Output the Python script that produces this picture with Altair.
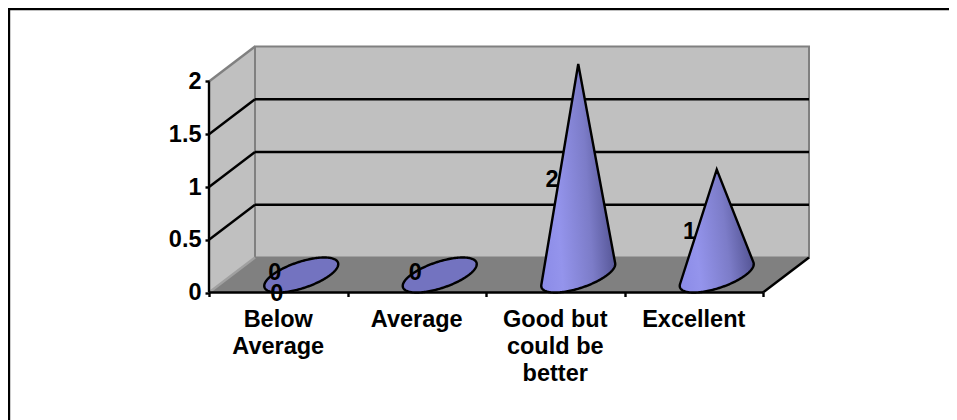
import altair as alt
import numpy as np
import pandas as pd

categories = ["Below\nAverage", "Average", "Good but\ncould be\nbetter", "Excellent"]
values = [0, 0, 2, 1]
y_ticks = [0, 0.5, 1, 1.5, 2]
x_ticks = [0, 1, 2, 3, 4]
grid_values = [0.5, 1, 1.5]
label_text = ["0", "0", "0", "2", "1"]
label_cat = [0.475, 0.49, 1.49, 2.476, 3.47]
label_val = [0.185, -0.01, 0.185, 1.07, 0.57]

W, H = 941, 412
CAT_PX, VAL_PX = 138.5, 105.5
X0, Y0 = 201, 284.5
DX, DY = 46 / CAT_PX, 35 / VAL_PX
RADIUS = 29 / CAT_PX
TOP = 2
FONT = "Liberation Sans"
SIZE = 23.5
LW = 2.4

xs = alt.Scale(domain=[-X0 / CAT_PX, (W - X0) / CAT_PX], nice=False, zero=False)
ys = alt.Scale(domain=[-(H - Y0) / VAL_PX, Y0 / VAL_PX], nice=False, zero=False)
x_axis = alt.Axis(values=x_ticks, orient="bottom", offset=-(H - Y0), domain=False, grid=False, labels=False,
                  title=None, tickSize=4, tickWidth=LW, tickColor="black", zindex=1)
y_axis = alt.Axis(values=y_ticks, orient="left", offset=-X0, domain=False, grid=False, title=None, format=".2~f",
                  tickSize=4, tickWidth=LW, tickColor="black", labelFont=FONT, labelFontSize=SIZE,
                  labelFontWeight="bold", labelColor="black", labelPadding=4, zindex=1)
X = alt.X("x:Q", scale=xs, axis=x_axis)
Y = alt.Y("y:Q", scale=ys, axis=y_axis)
Y2 = alt.Y2("y2:Q")
X2 = alt.X2("x2:Q")


def hull(pts):
    pts = sorted(set(pts))
    def half(seq):
        out = []
        for p in seq:
            while len(out) > 1 and (out[-1][0] - out[-2][0]) * (p[1] - out[-2][1]) - (out[-1][1] - out[-2][1]) * (p[0] - out[-2][0]) <= 0:
                out.pop()
            out.append(p)
        return out
    lower = half(pts)
    upper = half(pts[::-1])
    return lower, upper[::-1]


def cone(cat, val):
    t = np.linspace(0, 2 * np.pi, 181)[:-1]
    cx, cy = cat + 0.5 + DX / 2, DY / 2
    ex = cx + RADIUS * np.cos(t) + DX / 2 * np.sin(t)
    ey = cy + DY / 2 * np.sin(t)
    pts = [(float(a), float(b)) for a, b in zip(ex, ey)] + ([(cx, cy + val)] if val else [])
    lower, upper = hull([(p[0] * CAT_PX, p[1] * VAL_PX) for p in pts])
    lx, ly = np.array(lower).T
    ux, uy = np.array(upper).T
    grid = np.unique(np.concatenate([lx, ux]))
    area = pd.DataFrame({
        "x": grid / CAT_PX,
        "y": np.interp(grid, ux, uy) / VAL_PX,
        "y2": np.interp(grid, lx, ly) / VAL_PX,
    })
    ring = lower + upper[::-1][1:] + [lower[0]]
    line = pd.DataFrame({"x": [p[0] / CAT_PX for p in ring], "y": [p[1] / VAL_PX for p in ring]})
    line["i"] = range(len(line))
    return area, line


def seg(xv, yv, color, width=LW):
    return alt.Chart(pd.DataFrame({"x": xv, "y": yv})).mark_line(color=color, strokeWidth=width).encode(X, Y)


layers = []

# floor and walls
floor = pd.DataFrame({"x": [0, DX, 4, 4 + DX], "y": [0, DY, DY, DY], "y2": [0, 0, 0, DY]})
layers.append(alt.Chart(floor).mark_area(color="#808080").encode(X, Y, Y2))
side = pd.DataFrame({"x": [0, DX], "y": [TOP, TOP + DY], "y2": [0, DY]})
layers.append(alt.Chart(side).mark_area(color="#c0c0c0").encode(X, Y, Y2))
back = pd.DataFrame({"x": [DX], "x2": [4 + DX], "y": [DY], "y2": [TOP + DY]})
layers.append(alt.Chart(back).mark_rect(color="#c0c0c0", stroke="#808080", strokeWidth=2).encode(X, X2, Y, Y2))
layers.append(seg([0, DX], [TOP, TOP + DY], "#808080"))
layers.append(seg([0, DX], [0, DY], "#a0a0a0"))
layers.append(seg([4, 4 + DX], [0, DY], "black"))

# gridlines
for v in grid_values:
    layers.append(seg([DX, 4 + DX], [v + DY, v + DY], "black"))
    layers.append(seg([0, DX], [v, v + DY], "black"))

# axis lines
layers.append(seg([0, 0], [0, TOP], "black"))
layers.append(seg([0, 4], [0, 0], "black"))

# cones
grad = alt.Gradient(gradient="linear", x1=0, y1=0.8, x2=1, y2=0.6, stops=[
    alt.GradientStop(color="#8c8ce8", offset=0),
    alt.GradientStop(color="#9494ec", offset=0.25),
    alt.GradientStop(color="#7c7cc8", offset=0.65),
    alt.GradientStop(color="#50508f", offset=1),
])
for i, v in enumerate(values):
    area, line = cone(i, v)
    fill = grad if v else "#7373c0"
    layers.append(alt.Chart(area).mark_area(fill=fill, opacity=1).encode(X, Y, Y2))
    layers.append(alt.Chart(line).mark_line(color="black", strokeWidth=LW, strokeJoin="miter").encode(
        X, Y, order=alt.Order("i:Q")))

# data labels
labels = pd.DataFrame({"x": label_cat, "y": label_val, "t": label_text})
layers.append(alt.Chart(labels).mark_text(font=FONT, fontSize=SIZE, fontWeight="bold", color="black",
                                          align="center", baseline="middle").encode(X, Y, text="t:N"))

# category labels
cats = pd.DataFrame({"x": [i + 0.5 for i in range(4)], "y": [-0.15] * 4, "t": categories})
layers.append(alt.Chart(cats).mark_text(font=FONT, fontSize=SIZE, fontWeight="bold", color="black",
                                        align="center", baseline="top", lineBreak="\n", lineHeight=27).encode(X, Y, text="t:N"))

# frame
layers.append(alt.Chart(pd.DataFrame({"a": [0]})).mark_rule(color="black", strokeWidth=2.4).encode(
    x=alt.value(1), y=alt.value(0), y2=alt.value(H)))
layers.append(alt.Chart(pd.DataFrame({"a": [0]})).mark_rule(color="black", strokeWidth=2.4).encode(
    x=alt.value(0), x2=alt.value(W), y=alt.value(1)))

chart = alt.layer(*layers).properties(
    width=W, height=H, padding=0, autosize=alt.AutoSizeParams(type="none"), background="white"
).configure_view(stroke=None)

chart.save("out.html", embed_options={"renderer": "svg", "actions": False})
